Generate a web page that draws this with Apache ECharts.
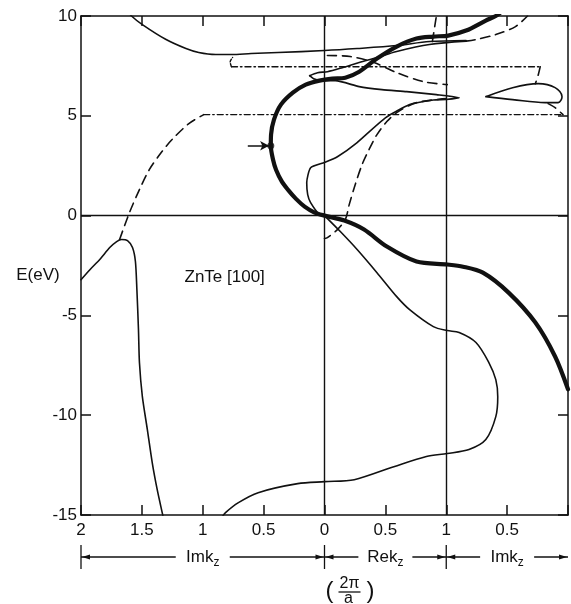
<!DOCTYPE html>
<html><head><meta charset="utf-8">
<script src="https://cdn.jsdelivr.net/npm/echarts@6/dist/echarts.min.js"></script>
<style>html,body{margin:0;padding:0;background:#fff;overflow:hidden}#c{width:571px;height:604px}</style>
</head><body><div id="c"></div><script>
// Horizontal coordinate u runs along the combined k-axis:
// u 0..2 : Im k (2 -> 0) at Re k = 0 ; u 2..3 : Re k (0 -> 1) ; u 3..4 : Im k (1 -> 0) at Re k = 1
const tickLabels = ['2','1.5','1','0.5','0','0.5','1','0.5',''];
const sectionLabels = [{from:0,to:2,main:'Imk',sub:'z'},{from:2,to:3,main:'Rek',sub:'z'},{from:3,to:4,main:'Imk',sub:'z'}];

// thick band
const thickBand = [[3.45,10.2],[3.407,10.0],[3.325,9.77],[3.163,9.27],[3.016,9.02],[2.894,8.97],[2.756,8.87],[2.593,8.47],[2.431,7.87],[2.285,7.21],[2.171,6.91],[2.065,6.86],[1.959,6.76],[1.846,6.56],[1.740,6.16],[1.642,5.56],[1.585,4.81],[1.561,4.06],[1.559,3.5],[1.577,2.81],[1.602,2.30],[1.650,1.70],[1.699,1.30],[1.764,0.85],[1.837,0.45],[1.919,0.15],[2.0,0.0],[2.163,-0.25],[2.325,-0.70],[2.512,-1.55],[2.756,-2.30],[3.008,-2.45],[3.138,-2.56],[3.301,-2.86],[3.512,-3.86],[3.732,-5.36],[3.894,-7.06],[4.0,-8.7]];
// thin solid branches
const thinUpper = [[0.38,10.3],[0.415,10.0],[0.504,9.57],[0.699,8.82],[0.862,8.37],[0.967,8.17],[1.106,8.07],[1.236,8.07],[1.398,8.12],[1.618,8.17],[2.0,8.27],[2.268,8.37],[2.593,8.52],[2.862,8.72],[3.163,8.77]];
const thinLoopUpper = [[1.878,7.01],[1.943,7.16],[2.024,7.21],[2.146,7.41],[2.285,7.67],[2.431,7.92],[2.593,8.22],[2.862,8.57],[3.163,8.74]];
const thinMiddle = [[1.878,7.01],[1.911,6.86],[1.984,6.76],[2.089,6.76],[2.285,6.46],[2.472,6.31],[2.675,6.21],[2.919,6.06],[3.106,5.91],[3.0,5.82],[2.894,5.79],[2.70,5.56],[2.50,4.90],[2.268,3.66],[2.106,2.95],[2.0,2.66],[1.886,2.40],[1.854,1.65],[1.862,1.05],[1.886,0.65],[1.959,0.05],[2.0,0.0]];
const thinLower = [[2.0,0.0],[2.130,-0.80],[2.268,-1.70],[2.431,-2.86],[2.593,-4.06],[2.699,-4.71],[2.894,-5.56],[3.008,-5.76],[3.106,-5.86],[3.244,-6.36],[3.350,-7.36],[3.407,-8.22],[3.423,-9.07],[3.407,-10.07],[3.325,-11.22],[3.187,-11.72],[3.008,-11.92],[2.837,-12.07],[2.569,-12.58],[2.244,-13.23],[2.0,-13.33],[1.780,-13.43],[1.455,-13.88],[1.293,-14.38],[1.187,-14.88],[1.16,-15.1]];
const leftBranch = [[0,-3.21],[0.073,-2.71],[0.154,-2.20],[0.236,-1.60],[0.293,-1.30],[0.333,-1.20],[0.382,-1.25],[0.423,-1.60],[0.447,-2.30],[0.459,-3.70],[0.472,-5.71],[0.480,-7.36],[0.504,-9.07],[0.545,-10.72],[0.585,-12.37],[0.626,-13.73],[0.667,-14.88],[0.675,-15.1]];
const rightLoop = [[3.325,5.96],[3.545,6.41],[3.756,6.61],[3.894,6.41],[3.951,5.96],[3.919,5.66],[3.813,5.66],[3.545,5.81],[3.325,5.96]];
// dashed branches
const dashGamma = [[2.024,8.02],[2.211,7.97],[2.407,7.67],[2.593,7.16],[2.813,6.71],[3.008,6.56]];
const dashCusp = [[3.163,8.74],[3.244,8.82],[3.407,9.07],[3.569,9.47],[3.667,10.0]];
const dashShort = [[2.886,8.72],[2.919,10.0]];
const dashLeft = [[0.317,-1.20],[0.398,0.15],[0.480,1.30],[0.561,2.30],[0.659,3.16],[0.748,3.81],[0.886,4.61],[1.008,5.06]];
const dashMiddle = [[3.0,5.86],[2.756,5.66],[2.593,5.16],[2.512,4.71],[2.431,4.06],[2.366,3.31],[2.309,2.56],[2.252,1.55],[2.203,0.55],[2.171,-0.20],[2.106,-0.70],[2.024,-1.10],[2.0,-1.15]];
const dashLoopLow = [[3.837,5.61],[3.894,5.41],[3.959,5.06]];
const dashLoopHigh = [[3.772,7.46],[3.756,7.06],[3.732,6.61]];
const dashCurl = [[1.236,7.46],[1.225,7.70],[1.245,7.92]];
// dash-dot levels
const dashDotLow = [[1.008,5.06],[3.951,5.06]];
const dashDotHigh = [[1.236,7.46],[3.772,7.46]];
// arrow marker
const arrowTail = [1.37,3.5];
const arrowHead = [1.545,3.5];
const markedPoint = [1.559,3.5];

const K = '#111';
const FONT = 'Liberation Sans';
const DASH = [9,6];
const DASHDOT = [6,3,1.5,3];
function curve(data, w, type, smooth){
  return {type:'line', data, symbol:'none', showSymbol:false, smooth: smooth===undefined?0.3:smooth, clip:true, silent:true,
    lineStyle:{color:K, width:w, type:type||'solid', cap:'round', join:'round'}, z:3};
}
const chart = echarts.init(document.getElementById('c'), null, {renderer:'canvas'});
const axisCommon = {type:'value', splitLine:{show:false}, axisLine:{show:true, onZero:false, lineStyle:{color:K,width:1.5}},
  axisTick:{show:true, inside:true, length:10, lineStyle:{color:K,width:1.5}}};
const series = [
  Object.assign(curve(thickBand, 4.2), {markLine:{silent:true, symbol:['none','none'], label:{show:false},
    lineStyle:{color:K,width:1.4,type:'solid'}, data:[{xAxis:2},{xAxis:3},{yAxis:0}]}}),
  curve(thinUpper,1.6), curve(thinLoopUpper,1.6), curve(thinMiddle,1.6,'solid',0.2), curve(thinLower,1.6),
  curve(leftBranch,1.6,'solid',0.25), curve(rightLoop,1.6,'solid',0.35),
  curve(dashGamma,1.6,DASH), curve(dashCusp,1.6,DASH), curve(dashShort,1.6,DASH), curve(dashLeft,1.6,DASH),
  curve(dashMiddle,1.6,DASH), curve(dashLoopLow,1.6,DASH), curve(dashLoopHigh,1.6,DASH), curve(dashCurl,1.4,[3,2]),
  curve(dashDotLow,1.4,DASHDOT,0), curve(dashDotHigh,1.4,DASHDOT,0),
  {type:'line', data:[arrowTail, arrowHead], symbol:'none', lineStyle:{width:0}, silent:true,
    markLine:{silent:true, symbol:['none','arrow'], symbolSize:[7,9], label:{show:false}, lineStyle:{color:K,width:1.5,type:'solid'},
      data:[[{coord:arrowTail},{coord:arrowHead}]]}},
  {type:'scatter', data:[markedPoint], symbol:'circle', symbolSize:7, itemStyle:{color:K}, silent:true, z:5}
];
chart.setOption({
  animation:false, backgroundColor:'#fff',
  grid:{left:81, top:16, width:492, height:499, containLabel:false},
  xAxis:[
    Object.assign({}, axisCommon, {min:0,max:4,interval:0.5,position:'bottom',
      axisLabel:{formatter:v=>tickLabels[Math.round(v*2)], fontSize:17, color:K, fontFamily:FONT, margin:7, showMinLabel:true, showMaxLabel:true}}),
    Object.assign({}, axisCommon, {min:0,max:4,interval:0.5,position:'top', axisLabel:{show:false}})
  ],
  yAxis:[
    Object.assign({}, axisCommon, {min:-15,max:10,interval:5,position:'left',
      axisLabel:{fontSize:17, color:K, fontFamily:FONT, margin:4}}),
    Object.assign({}, axisCommon, {min:-15,max:10,interval:5,position:'right', axisLabel:{show:false}})
  ],
  series
});

// annotations placed through the axes' own scales
const gx = u => chart.convertToPixel({xAxisIndex:0}, u);
const gy = e => chart.convertToPixel({yAxisIndex:0}, e);
const yb = gy(-15);
const rowY = yb + 42;
const els = [];
const ls = {stroke:K, lineWidth:1.3};
sectionLabels.forEach((s,i)=>{
  const x1 = gx(s.from), x2 = gx(s.to), cx = (x1+x2)/2;
  els.push({type:'line', shape:{x1:x1, y1:rowY, x2:cx-27, y2:rowY}, style:ls});
  els.push({type:'line', shape:{x1:cx+27, y1:rowY, x2:x2, y2:rowY}, style:ls});
  els.push({type:'polygon', shape:{points:[[x1+1,rowY],[x1+9,rowY-2.5],[x1+9,rowY+2.5]]}, style:{fill:K}});
  els.push({type:'polygon', shape:{points:[[x2-1,rowY],[x2-9,rowY-2.5],[x2-9,rowY+2.5]]}, style:{fill:K}});
  els.push({type:'line', shape:{x1:x1, y1:rowY-12, x2:x1, y2:rowY+12}, style:ls});
  els.push({type:'text', x:cx, y:rowY, style:{text:'{m|'+s.main+'}{s|'+s.sub+'}', align:'center', verticalAlign:'middle',
    rich:{m:{fontSize:17, fontFamily:FONT, fill:K, lineHeight:24}, s:{fontSize:12, fontFamily:FONT, fill:K, lineHeight:24, verticalAlign:'bottom', padding:[6,0,0,0]}}}});
});
const fx = gx(2) + 25;
els.push({type:'text', x:fx, y:yb+69, style:{text:'2π', align:'center', verticalAlign:'middle', fontSize:16, fontFamily:FONT, fill:K}});
els.push({type:'line', shape:{x1:fx-11, y1:yb+77, x2:fx+11, y2:yb+77}, style:ls});
els.push({type:'text', x:fx-1, y:yb+84, style:{text:'a', align:'center', verticalAlign:'middle', fontSize:16, fontFamily:FONT, fill:K}});
els.push({type:'text', x:fx-20, y:yb+76, style:{text:'(', align:'center', verticalAlign:'middle', fontSize:24, fontFamily:FONT, fill:K}});
els.push({type:'text', x:fx+21, y:yb+76, style:{text:')', align:'center', verticalAlign:'middle', fontSize:24, fontFamily:FONT, fill:K}});
els.push({type:'text', x:38, y:gy(-3.0), style:{text:'E(eV)', align:'center', verticalAlign:'middle', fontSize:17, fontFamily:FONT, fill:K}});
els.push({type:'text', x:gx(1.18), y:gy(-3.1), style:{text:'ZnTe [100]', align:'center', verticalAlign:'middle', fontSize:17, fontFamily:FONT, fill:K}});
chart.setOption({graphic:{elements:els}});
</script></body></html>
